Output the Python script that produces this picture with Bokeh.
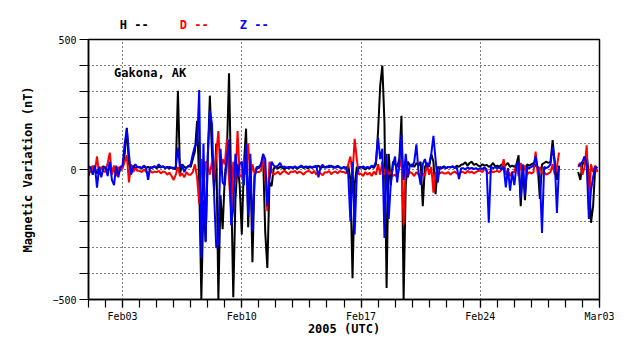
import numpy as np
from bokeh.plotting import figure
from bokeh.models import Range1d, FixedTicker, Label
from bokeh.layouts import column
from bokeh.core.properties import value
from bokeh.embed import file_html
from bokeh.resources import INLINE

nan = float("nan")

# samples every 3 hours starting 2005-02-01 00:00 UTC (8 per day, 30 days)
step_hours = 3

H = [
    -25, 5, 10, 0, -15, 8, 5, 12,          # Feb01
    5, -10, 20, -15, 10, -20, 5, 8,        # Feb02
    10, 60, 160, 20, -10, 15, 5, 10,       # Feb03
    8, 5, 12, 6, 10, 4, 8, 12,             # Feb04
    5, 10, 8, 12, 6, 10, 4, 8,             # Feb05
    5, 0, 303, -15, 20, 10, 5, 15,         # Feb06
    10, 40, 70, 187, -50, -500, -118, -276,  # Feb07
    40, 284, 60, -80, 100, -500, -100, -230, # Feb08
    -30, 60, 370, -60, -491, -118, 20, -60,  # Feb09
    -250, 20, 157, -222, 40, -357, -20, 10,  # Feb10
    5, 15, 50, -240, -379, -50, -64, 5,    # Feb11
    8, 4, 10, 6, 2, 8, 5, 10,              # Feb12
    5, 10, 3, 8, 12, 6, 9, 4,              # Feb13
    10, 6, 12, 8, 15, 5, 10, 8,            # Feb14
    12, 8, 15, 6, 10, 14, 8, 5,            # Feb15
    8, 5, 15, -40, -418, -60, 10, 5,       # Feb16
    10, 5, 0, 8, 4, 12, 6, 20,             # Feb17
    146, 322, 400, 181, -456, 60, -60, 30, # Feb18
    20, 10, 40, 207, -500, -60, 30, 15,    # Feb19
    20, 10, 25, 15, 30, -141, 10, 25,      # Feb20
    10, 60, 30, -95, 10, 5, 8, 12,         # Feb21
    5, 10, 8, 12, 6, 15, 10, 18,           # Feb22
    20, 28, 15, 25, 30, 18, 22, 15,        # Feb23
    12, 20, 15, 18, 10, 15, 25, 12,        # Feb24
    15, 10, 20, 12, 18, 25, 10, 15,        # Feb25
    10, 20, 55, -141, 10, -118, 20, 15,    # Feb26
    20, 25, 15, 10, -113, 20, 25, 30,      # Feb27
    25, 30, 113, 20, -40, 15, nan, nan,    # Feb28
    nan, nan, nan, nan, nan, nan, -10, -40,  # Mar01
    20, 30, 55, -20, -205, -141, 10, 5,    # Mar02
]

D = [
    5, -10, 15, -5, 50, -20, 10, -5,
    -10, 25, 65, -20, 15, -25, 10, -5,
    5, 30, 55, -50, 20, -10, 5, -5,
    -5, -10, 0, -8, -15, -5, -12, -8,
    -10, -5, -15, -8, -10, -20, -12, -25,
    -40, -20, 10, -25, -15, -30, -10, -20,
    -20, -10, 20, -30, -133, 40, -60, 30,
    20, -20, 30, -40, 60, 148, -20, 40,
    20, 117, -40, -160, 30, -50, 148, -20,
    -30, 40, -20, 100, -40, 20, -15, -10,
    -10, -5, 45, -20, -160, 30, -10, -20,
    -15, -8, -20, -10, -5, -12, -18, -8,
    -10, -5, -15, -8, -12, -20, -10, -6,
    -8, -15, -5, -20, -10, -15, -22, -10,
    -12, -6, -18, -10, -8, -15, -5, -10,
    -10, -15, 20, 50, -20, 118, 40, -20,
    -15, -25, -10, -20, -12, -25, -8, -20,
    20, -20, 30, -20, 10, -20, -10, -25,
    -20, -30, 10, 40, -212, 20, -20, -10,
    -15, -25, -10, -20, -30, -15, -25, 20,
    -20, 10, -89, -10, -20, -15, -10, -15,
    -15, -10, -20, -12, -8, -15, -20, -10,
    -10, -15, -5, -12, -8, -15, -10, -5,
    -5, -10, 5, -8, -15, -5, -10, -8,
    -5, -10, 0, 40, -20, -5, -25, -10,
    -10, 20, -25, 25, -15, 15, -20, -10,
    -15, -10, 69, -20, 10, -15, -10, -20,
    -15, -10, 20, -20, 10, 65, nan, nan,
    nan, nan, nan, nan, nan, nan, 15, 25,
    -20, 10, 93, -153, 20, -10, 15, -10,
]

Z = [
    12, 8, -20, 15, -70, 10, -30, 5,
    10, -25, 30, -40, -60, 15, -30, 10,
    15, 100, 156, 60, -20, 10, 20, 8,
    10, 5, 15, 8, -40, 10, 6, 12,
    8, 20, 10, 12, 5, 8, 10, 6,
    5, 10, 84, 10, 15, -10, 8, 12,
    20, 60, 90, 98, 306, -340, 100, -280,
    50, 226, 175, -100, -302, -283, 80, -50,
    -60, 40, 115, -214, -150, 60, -30, 20,
    30, -60, 98, -176, 60, -237, -30, 5,
    10, 20, 60, 40, -141, -40, 30, 15,
    10, 15, 25, 8, 12, 5, 10, 8,
    8, 12, 6, 10, 15, 8, 12, 10,
    12, 8, 10, 15, -30, 10, 18, 8,
    8, 15, 10, 12, 6, 10, 8, 5,
    10, 5, -20, -199, 30, -250, -20, 10,
    8, 12, 5, 10, 6, 15, 10, 30,
    123, 40, 80, -263, 60, -190, -50, 20,
    50, -50, 30, 133, -40, 60, -30, 20,
    10, 30, 97, -10, -59, 20, 40, 10,
    20, 60, 129, 40, -50, 10, 5, 8,
    5, 10, 8, 12, 6, 8, -37, 5,
    5, 0, 8, 3, 6, 2, 5, 0,
    5, 2, 8, 0, -205, 10, 5, 8,
    5, 8, 0, 10, -69, 5, -81, -10,
    -60, 15, 30, -110, 20, -96, 10, 5,
    10, 15, 50, 5, -30, -244, 10, 5,
    10, 20, 88, 30, -167, 10, nan, nan,
    nan, nan, nan, nan, nan, nan, 10, 20,
    30, 50, 20, -190, -80, -30, 10, 5,
]

x_tick_days = [2, 9, 16, 23, 30]
x_tick_labels = ["Feb03", "Feb10", "Feb17", "Feb24", "Mar03"]
x_minor_days = list(range(0, 31))
y_ticks = [-500, 0, 500]
y_minor = [-400, -300, -200, -100, 100, 200, 300, 400]

series_names = ["H", "D", "Z"]
series_values = [H, D, Z]
series_colors = ["#000000", "#ff0000", "#0000ff"]

t = np.arange(len(H)) * step_hours / 24.0

MONO = "DejaVu Sans Mono"
W = 630
LEFT, RIGHT = 88, 31

xr = Range1d(0, 30)

# ---- legend strip above the plot ----
strip = figure(width=W, height=35, output_backend="svg", toolbar_location=None,
               x_range=xr, y_range=Range1d(0, 35),
               x_axis_location=None, y_axis_location=None,
               min_border_left=LEFT, min_border_right=RIGHT,
               min_border_top=0, min_border_bottom=0,
               outline_line_color=None,
               background_fill_color="white", border_fill_color="white")
strip.grid.visible = False
strip.text(x=[1.84, 5.36, 8.88], y=[11, 11, 11],
           text=[n + " --" for n in series_names],
           text_color=series_colors, text_font=value(MONO),
           text_font_size="12px", text_font_style="bold",
           text_baseline="middle", text_align="left")

# ---- main plot ----
p = figure(width=W, height=316, output_backend="svg", toolbar_location=None,
           x_range=xr, y_range=Range1d(-500, 500),
           min_border_left=LEFT, min_border_right=RIGHT,
           min_border_top=4, min_border_bottom=52,
           background_fill_color="white", border_fill_color="white")

for vals, col in zip(series_values, series_colors):
    p.line(t, np.array(vals, dtype=float), line_color=col, line_width=2)

p.outline_line_color = "black"
p.outline_line_width = 1.5

# x axis
p.xaxis.ticker = FixedTicker(ticks=x_tick_days, minor_ticks=x_minor_days)
p.xaxis.major_label_overrides = {d: s for d, s in zip(x_tick_days, x_tick_labels)}
p.xaxis.axis_label = "2005 (UTC)"
p.xaxis.major_tick_out = 8
p.xaxis.major_tick_in = 0
p.xaxis.minor_tick_out = 8
p.xaxis.minor_tick_in = 0
p.xaxis.major_label_standoff = 3
p.xaxis.axis_label_standoff = -3

# y axis
p.yaxis.ticker = FixedTicker(ticks=y_ticks, minor_ticks=y_minor)
p.yaxis.axis_label = "Magnetic Variation (nT)"
p.yaxis.major_tick_out = 9
p.yaxis.major_tick_in = 0
p.yaxis.minor_tick_out = 9
p.yaxis.minor_tick_in = 0
p.yaxis.major_label_standoff = 3
p.yaxis.axis_label_standoff = 14

for ax in (p.xaxis[0], p.yaxis[0]):
    ax.axis_line_color = "black"
    ax.axis_line_width = 1.5
    ax.major_tick_line_color = "black"
    ax.minor_tick_line_color = "black"
    ax.major_tick_line_width = 1.2
    ax.minor_tick_line_width = 1.2
    ax.major_label_text_font = MONO
    ax.major_label_text_font_size = "10px"
    ax.major_label_text_color = "black"
    ax.axis_label_text_font = MONO
    ax.axis_label_text_font_size = "12px"
    ax.axis_label_text_font_style = "bold"
    ax.axis_label_text_color = "black"

# grids: dotted
p.xgrid.grid_line_color = "black"
p.xgrid.grid_line_dash = "1 3"
p.xgrid.grid_line_width = 1
p.ygrid.grid_line_color = "black"
p.ygrid.grid_line_dash = "1 3"
p.ygrid.grid_line_width = 1
p.ygrid.minor_grid_line_color = "black"
p.ygrid.minor_grid_line_dash = "1 3"
p.ygrid.minor_grid_line_width = 1

p.add_layout(Label(x=1.5, y=372, text="Gakona, AK", text_font=MONO,
                   text_font_size="12px", text_font_style="bold",
                   text_color="black", text_baseline="middle"))

layout = column(strip, p, spacing=0)
open("out.html", "w").write(file_html(layout, INLINE))
